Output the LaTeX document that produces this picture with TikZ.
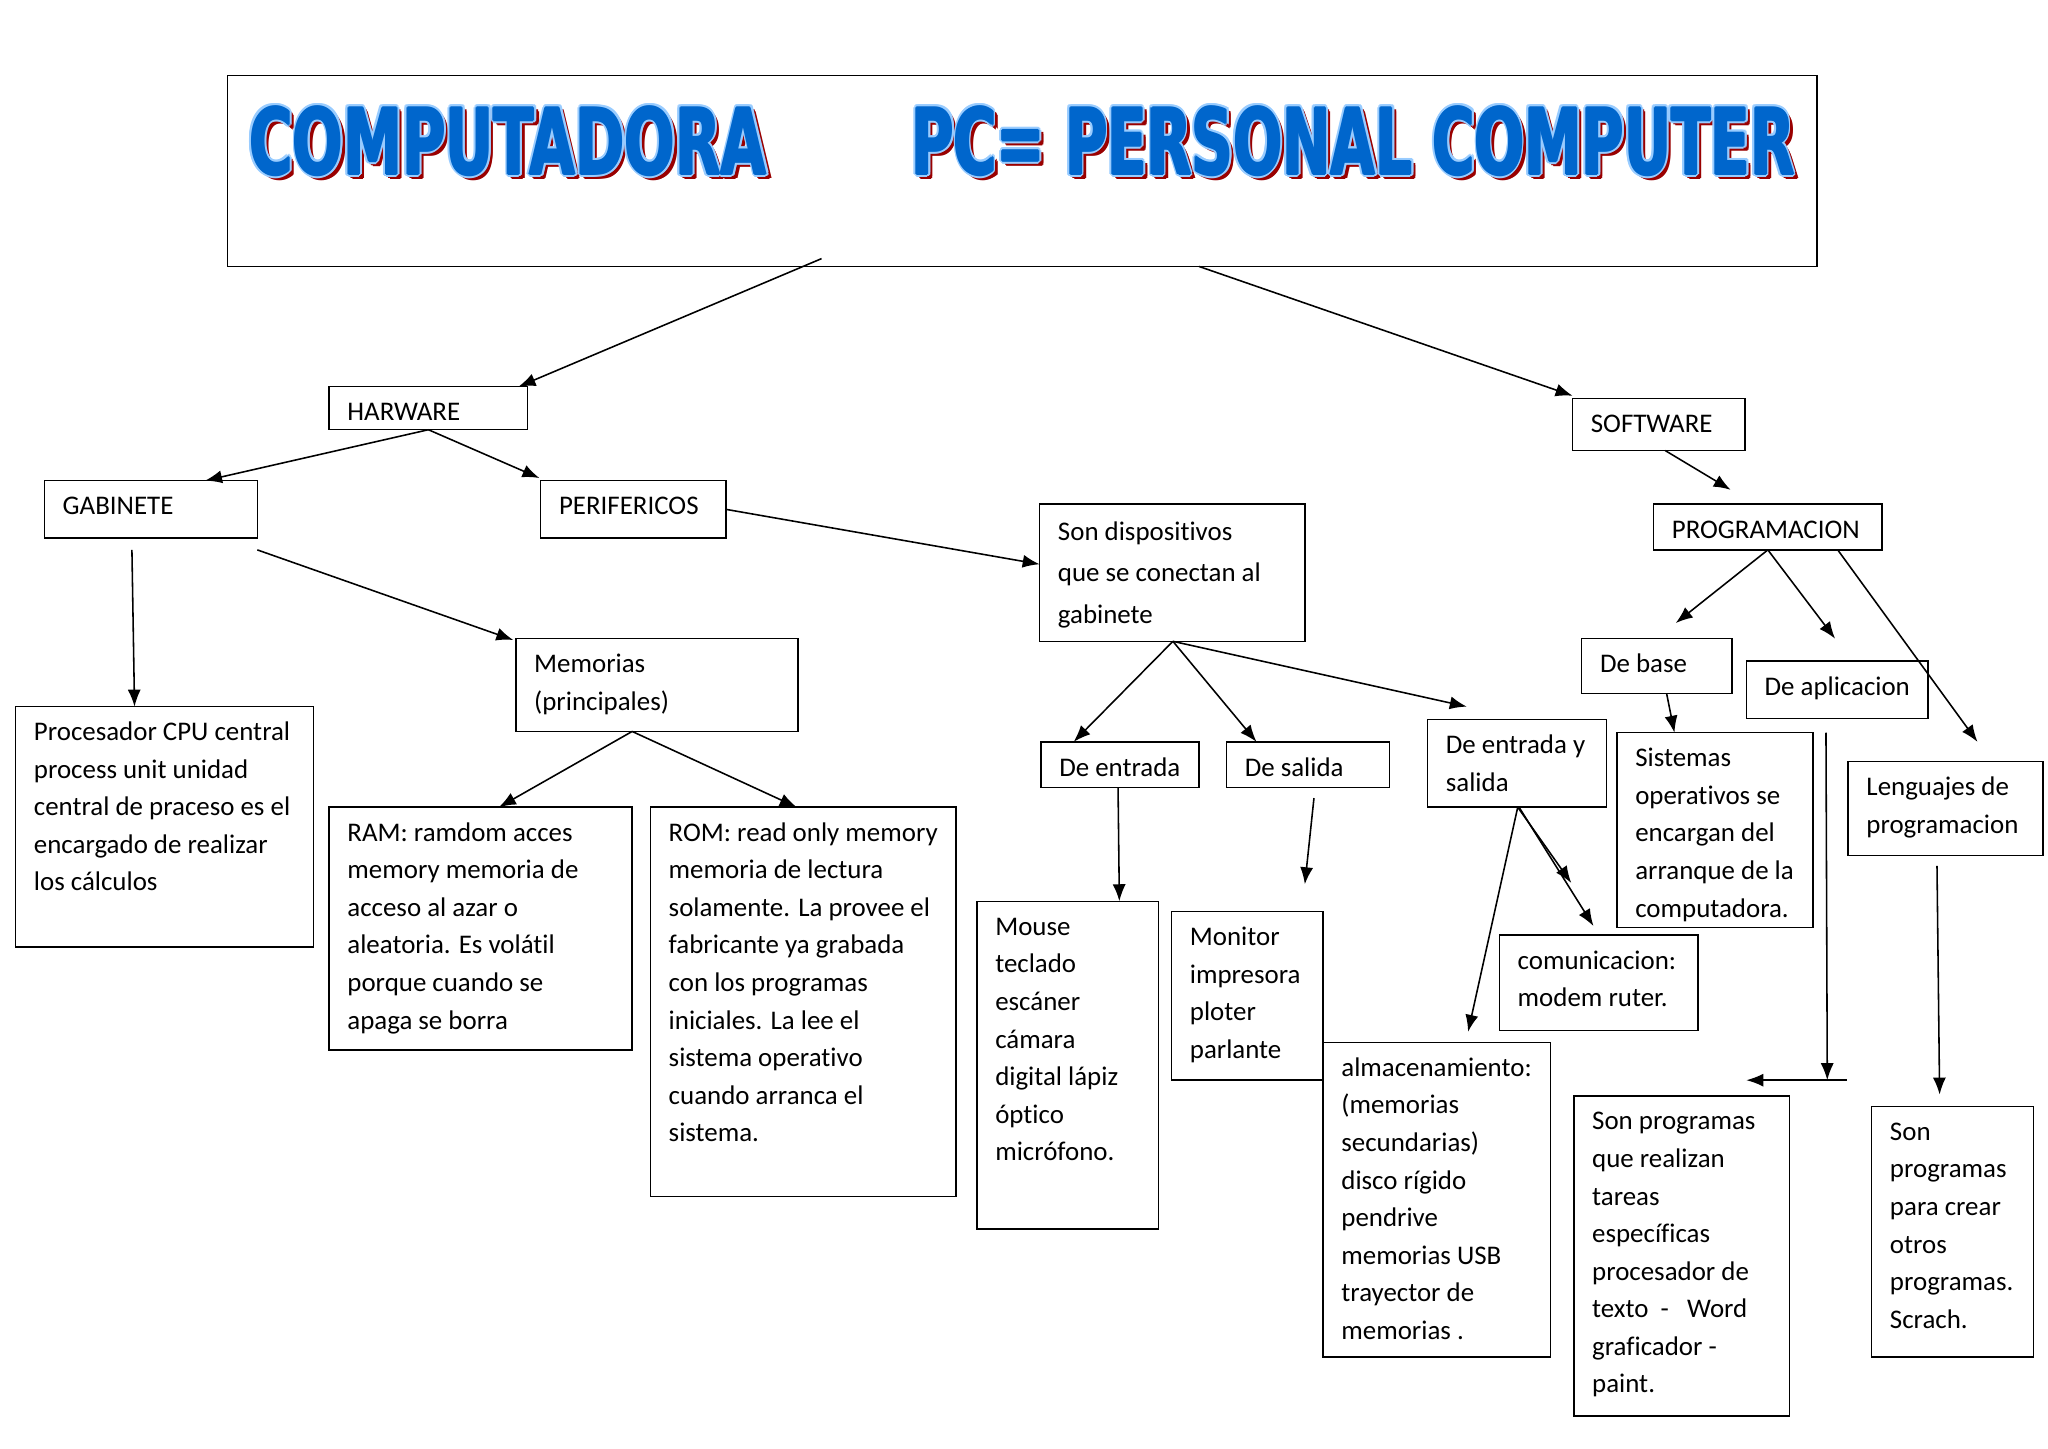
\documentclass[tikz,border=0pt]{standalone}
\usepackage{fontspec}
\setmainfont{Carlito}[Ligatures=NoCommon]
\newfontfamily\titlefont{DejaVu Sans}
\usetikzlibrary{arrows.meta}
\definecolor{WordBlue}{RGB}{0,102,204}
\definecolor{WordEdge}{RGB}{153,204,255}
\definecolor{WordShadow}{RGB}{153,0,0}
% box text: width, height (in px of the sketch), lines
\newcommand\boxtxt[3]{\parbox[c][\dimexpr#2pt-8pt\relax][t]{\dimexpr#1pt-28pt\relax}{\vspace*{2pt}\begin{tabular}[t]{@{}l@{}}#3\end{tabular}}}
\newcommand\wordart[3]{\resizebox{#1pt}{#2pt}{\titlefont\bfseries #3}}
\tikzset{
  >=Latex,
  box/.style={draw=black,line width=1.1pt,anchor=north west,inner xsep=14pt,inner ysep=4pt,outer sep=0pt,font=\fontsize{20.6}{28.75}\selectfont},
  widebox/.style={box,font=\fontsize{20.6}{31.5}\selectfont},
  conn/.style={-{Latex[length=13pt,width=10pt]},line width=1.2pt},
  arttext/.style={inner sep=0pt,outer sep=0pt}
}
\begin{document}
\begin{tikzpicture}[x=1pt,y=-1pt]
  \useasboundingbox (0,0) rectangle (1568,1109);
  % title
  \node[box,minimum width=1217pt,minimum height=146pt,inner sep=0pt] (title) at (174,58) {};
  \coordinate (artA) at (389,108);
  \coordinate (artB) at (1036,108);
  \foreach \dx/\dy [count=\k] in {2/2,3/3,2/3.5,3.5/2,3/4,4/3} {
    \node[arttext,text=WordShadow] (shA\k) at ([shift={(\dx,\dy)}]artA) {\wordart{396}{52}{COMPUTADORA}};
    \node[arttext,text=WordShadow] (shB\k) at ([shift={(\dx,\dy)}]artB) {\wordart{676}{52}{PC= PERSONAL COMPUTER}};
  }
  \foreach \a [count=\k] in {0,30,...,330} {
    \node[arttext,text=WordEdge] (edA\k) at ([shift={(\a:2.2)}]artA) {\wordart{396}{52}{COMPUTADORA}};
    \node[arttext,text=WordEdge] (edB\k) at ([shift={(\a:2.2)}]artB) {\wordart{676}{52}{PC= PERSONAL COMPUTER}};
  }
  \foreach \dx/\dy [count=\k] in {0/0,0.8/0,-0.8/0,0/0.6,0/-0.6} {
    \node[arttext,text=WordBlue] (tA\k) at ([shift={(\dx,\dy)}]artA) {\wordart{396}{52}{COMPUTADORA}};
    \node[arttext,text=WordBlue] (tB\k) at ([shift={(\dx,\dy)}]artB) {\wordart{676}{52}{PC= PERSONAL COMPUTER}};
  }

  % hardware side
  \node[box] (hw) at (252,296) {\boxtxt{152}{33}{HARWARE}};
  \node[box] (gab) at (34,368) {\boxtxt{163}{44}{GABINETE}};
  \node[box] (per) at (414,368) {\boxtxt{142}{44}{PERIFERICOS}};
  \node[box] (cpu) at (12,541) {\boxtxt{228}{184}{Procesador CPU central\\process unit unidad\\central de praceso es el\\encargado de realizar\\los cálculos}};
  \node[box] (mem) at (395,489) {\boxtxt{216}{71}{Memorias\\(principales)}};
  \node[box] (ram) at (252,618) {\boxtxt{232}{186}{RAM: ramdom acces\\memory memoria de\\acceso al azar o\\aleatoria. Es volátil\\porque cuando se\\apaga se borra}};
  \node[box] (rom) at (498,618) {\boxtxt{234}{298}{ROM: read only memory\\memoria de lectura\\solamente. La provee el\\fabricante ya grabada\\con los programas\\iniciales. La lee el\\sistema operativo\\cuando arranca el\\sistema.}};
  \node[widebox] (dev) at (796,386) {\boxtxt{203}{105}{Son dispositivos\\que se conectan al\\gabinete}};
  \node[box] (ent) at (797,568) {\boxtxt{121}{35}{De entrada}};
  \node[box] (sal) at (939,568) {\boxtxt{125}{35}{De salida}};
  \node[box] (es) at (1093,551) {\boxtxt{137}{67}{De entrada y\\salida}};
  \node[box] (mou) at (748,690) {\boxtxt{139}{251}{Mouse\\teclado\\escáner\\cámara\\digital lápiz\\óptico\\micrófono.}};
  \node[box] (mon) at (897,698) {\boxtxt{116}{129}{Monitor\\impresora\\ploter\\parlante}};
  \node[box] (alm) at (1013,798) {\boxtxt{174}{241}{almacenamiento:\\(memorias\\secundarias)\\disco rígido\\pendrive\\memorias USB\\trayector de\\memorias .}};
  \node[box] (com) at (1148,716) {\boxtxt{152}{73}{comunicacion:\\modem ruter.}};

  % software side
  \node[box] (sw) at (1204,305) {\boxtxt{132}{40}{SOFTWARE}};
  \node[box] (prog) at (1266,386) {\boxtxt{175}{35}{PROGRAMACION}};
  \node[box] (base) at (1211,489) {\boxtxt{115}{42}{De base}};
  \node[box] (apl) at (1337,506) {\boxtxt{139}{44}{De aplicacion}};
  \node[box] (sis) at (1238,561) {\boxtxt{150}{149}{Sistemas\\operativos se\\encargan del\\arranque de la\\computadora.}};
  \node[box] (len) at (1415,583) {\boxtxt{149}{72}{Lenguajes de\\programacion}};
  \node[box] (spa) at (1205,839) {\boxtxt{165}{245}{Son programas\\que realizan\\tareas\\específicas\\procesador de\\texto\ \ -\ \ \ Word\\graficador\ -\\paint.}};
  \node[box] (spc) at (1433,847) {\boxtxt{124}{192}{Son\\programas\\para crear\\otros\\programas.\\Scrach.}};

  % free ends
  \coordinate (esTip) at ([shift={(30,-10)}]es.north west);
  \coordinate (salOut) at ([shift={(67,8)}]sal.south west);
  \coordinate (monIn) at ([shift={(102,-21)}]mon.north west);
  \coordinate (aplOut) at ([shift={(61,11)}]apl.south west);
  \coordinate (aplJoin) at ([shift={(194,-12)}]spa.north west);
  \coordinate (barR) at ([shift={(209,-12)}]spa.north west);
  \coordinate (barL) at ([shift={(132,-12)}]spa.north west);

  % connectors
  \draw[conn] ([shift={(455,-6)}]title.south west) -- ([xshift=-7]hw.north east);
  \draw[conn] ([xshift=744]title.south west) -- ([shift={(0,-2)}]sw.north west);
  \draw[conn] (hw.south) -- ([xshift=123]gab.north west);
  \draw[conn] (hw.south) -- ([shift={(-1,-2)}]per.north west);
  \draw[conn] (per.east) -- ([shift={(0,46)}]dev.north west);
  \draw[conn] ([shift={(67,9)}]gab.south west) -- ([xshift=91]cpu.north west);
  \draw[conn] ([shift={(0,9)}]gab.south east) -- ([shift={(-2,1)}]mem.north west);
  \draw[conn] ([xshift=89]mem.south west) -- ([xshift=130]ram.north west);
  \draw[conn] ([xshift=89]mem.south west) -- ([xshift=112]rom.north west);
  \draw[conn] ([xshift=102]dev.south west) -- ([xshift=25]ent.north west);
  \draw[conn] ([xshift=102]dev.south west) -- ([xshift=23]sal.north west);
  \draw[conn] ([xshift=102]dev.south west) -- (esTip);
  \draw[conn] ([xshift=59]ent.south west) -- ([xshift=109]mou.north west);
  \draw[conn] (salOut) -- (monIn);
  \draw[conn] ([xshift=69]es.south west) -- ([shift={(111,-8)}]alm.north west);
  \draw[conn] ([xshift=69]es.south west) -- ([shift={(55,-40)}]com.north west);
  \draw[conn] ([xshift=70]es.south west) -- ([shift={(72,-7)}]com.north west);
  \draw[conn] ([xshift=71]sw.south west) -- ([shift={(59,-11)}]prog.north west);
  \draw[conn] (prog.south) -- ([shift={(72,-12)}]base.north west);
  \draw[conn] (prog.south) -- ([shift={(68,-17)}]apl.north west);
  \draw[conn] ([xshift=-34]prog.south east) -- ([shift={(99,-15)}]len.north west);
  \draw[conn] ([xshift=65]base.south west) -- ([xshift=44]sis.north west);
  \draw[conn] (aplOut) -- (aplJoin);
  \draw[conn] (barR) -- (barL);
  \draw[conn] ([shift={(68,8)}]len.south west) -- ([shift={(52,-9)}]spc.north west);
\end{tikzpicture}
\end{document}
